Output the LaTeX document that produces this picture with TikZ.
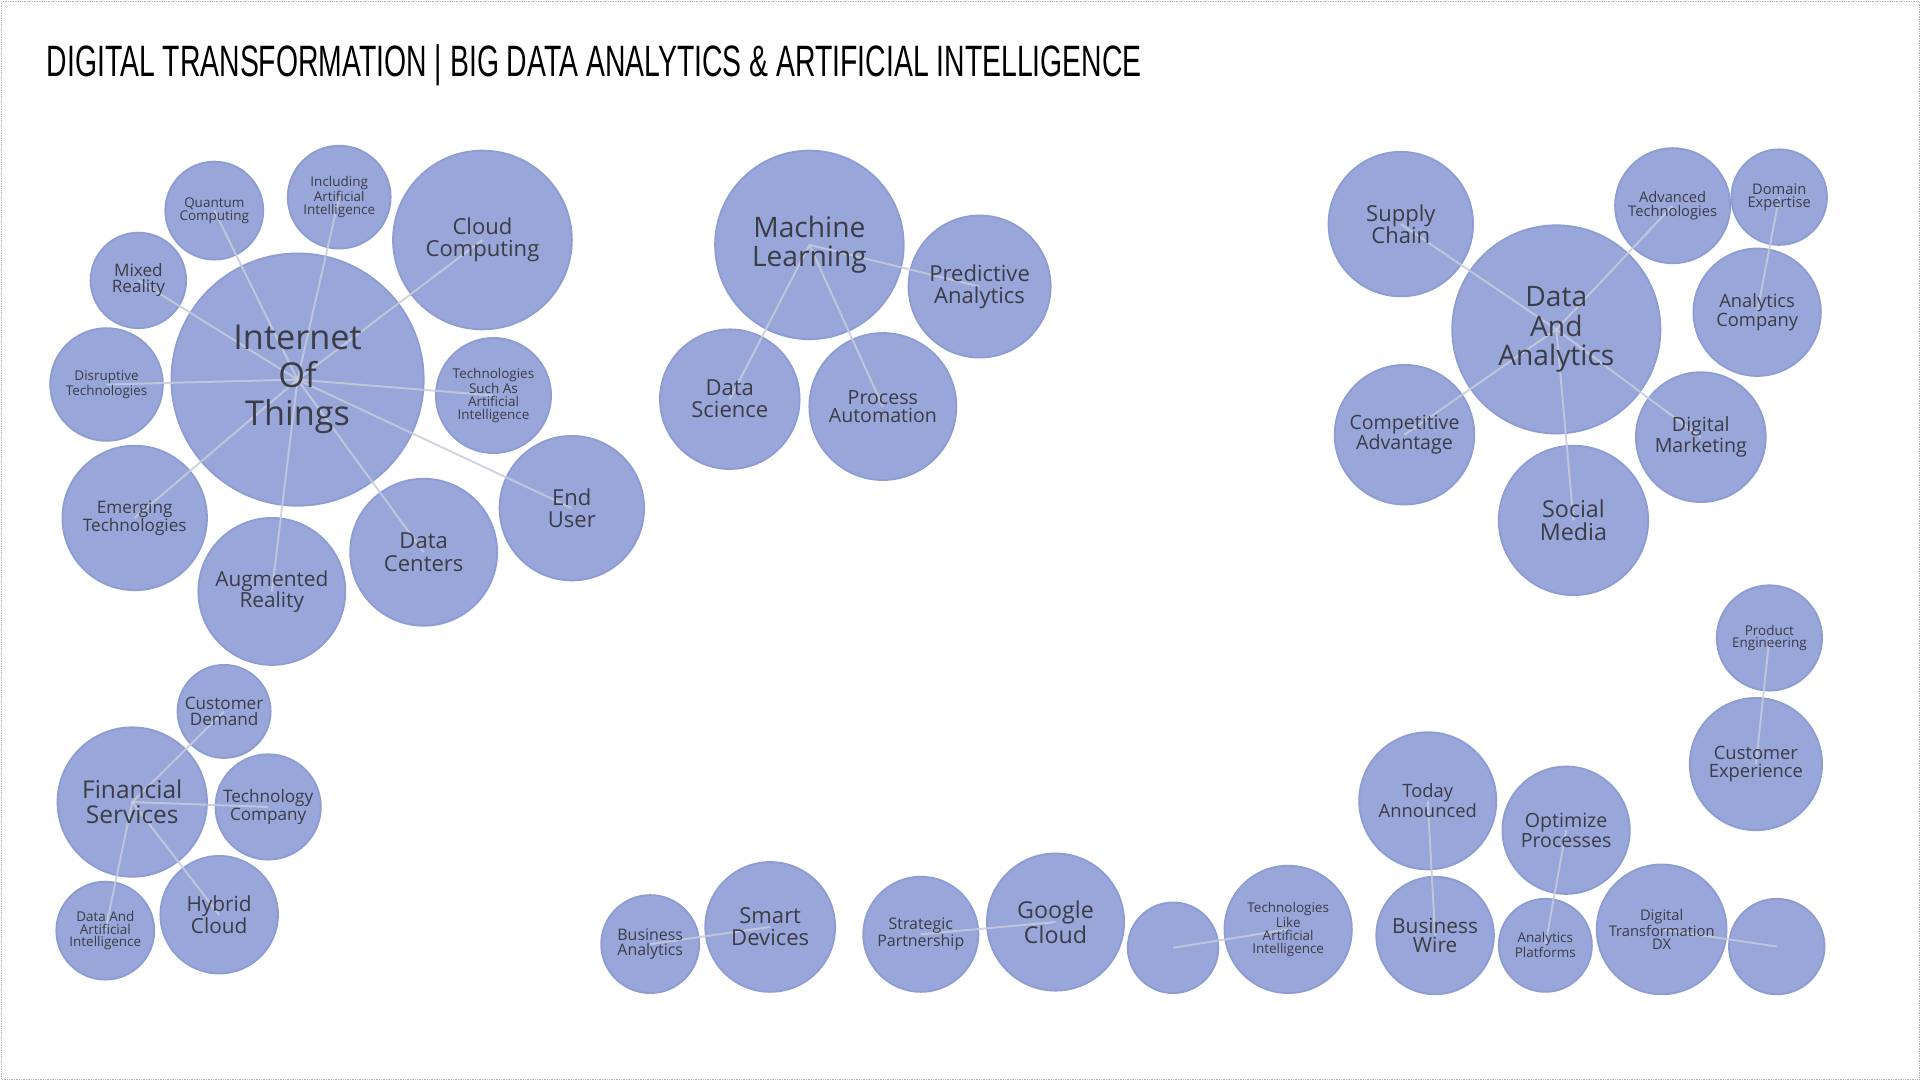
\documentclass[tikz,border=0pt]{standalone}
\usepackage{fontspec}
\usepackage{graphicx}
\setmainfont{Open Sans}
\newfontfamily\titlefont{Liberation Sans}
\definecolor{bubfill}{HTML}{98A6D9}
\definecolor{bubedge}{HTML}{8E9CD4}
\definecolor{txt}{HTML}{3C3C46}
\definecolor{lnk}{HTML}{C8CCDA}
\tikzset{
  bub/.style={circle,fill=bubfill,draw=bubedge,line width=1.5pt,inner sep=0pt},
  lab/.style={align=center,text=txt,inner sep=0pt},
  fxl/.style={font=\fontsize{28}{31}\selectfont},
  fl/.style={font=\fontsize{23}{24}\selectfont},
  fm/.style={font=\fontsize{18}{18}\selectfont},
  fs/.style={font=\fontsize{14}{13}\selectfont},
  fxs/.style={font=\fontsize{11}{10.5}\selectfont},
  link/.style={draw=lnk,line width=1.6pt,opacity=0.85}
}
\begin{document}
\begin{tikzpicture}[x=1pt,y=-1pt]
\useasboundingbox (0,0) rectangle (1568,882);
\draw[gray!60,densely dotted] (1,1) rectangle (1567,881);
\node[anchor=south west,inner sep=0pt] (title) at (38,70) {\resizebox{894pt}{26pt}{\titlefont DIGITAL TRANSFORMATION | BIG DATA ANALYTICS \& ARTIFICIAL INTELLIGENCE}};
% circles
\foreach \n/\x/\y/\r in {
 iot/243/310/103, qc/175/172/40, iai/277/161/42, cc/394/196/73, mr/113/229/39,
 dt/87/314/46, tsa/403/323/47, eu/467/415/59, et/110/423/59, ar/222/483/60, dc/346/451/60,
 ml/661/200/77, pa/800/234/58, ds/596/326/57, pra/721/332/60,
 da/1271/269/85, sc/1144/183/59, adv/1366/168/47, de/1453/161/39, ac/1435/255/52,
 ca/1147/355/57, dm/1389/357/53, sm/1285/425/61,
 pe/1445/521/43, cx/1434/624/54,
 fs/108/655/61, cd/183/581/38, tc/219/659/43, dai/86/760/40, hc/179/747/48,
 ba/531/771/40, sd/629/757/53, sp/752/763/47, gc/862/753/56, bl1/958/774/37, tla/1052/759/52,
 ta/1166/654/56, bw/1172/764/48, op/1279/678/52, ap/1262/772/38, dx/1357/759/53, bl2/1451/773/39}
 {\node[bub,minimum size=2*\r] (\n) at (\x,\y) {};}
% links
\foreach \a/\b in {iot/qc,iot/iai,iot/cc,iot/mr,iot/dt,iot/tsa,iot/eu,iot/et,iot/ar,iot/dc,
 ml/pa,ml/ds,ml/pra, da/sc,da/adv,da/ca,da/dm,da/sm, de/ac, pe/cx,
 fs/cd,fs/tc,fs/dai,fs/hc, ba/sd, sp/gc, bl1/tla, ta/bw, op/ap, dx/bl2}
 {\draw[link] (\a.center) -- (\b.center);}
% labels
\node[lab,fxl] (iott) at (iot) {Internet\\Of\\Things};
\node[lab,fxs] (qct) at (qc) {Quantum\\Computing};
\node[lab,fxs] (iait) at (iai) {Including\\Artificial\\Intelligence};
\node[lab,fm] (cct) at (cc) {Cloud\\Computing};
\node[lab,fs] (mrt) at (mr) {Mixed\\Reality};
\node[lab,fxs] (dtt) at (dt) {Disruptive\\Technologies};
\node[lab,fxs] (tsat) at (tsa) {Technologies\\Such As\\Artificial\\Intelligence};
\node[lab,fm] (eut) at (eu) {End\\User};
\node[lab,fs] (ett) at (et) {Emerging\\Technologies};
\node[lab,fm,font=\fontsize{17}{17}\selectfont] (art) at (ar) {Augmented\\Reality};
\node[lab,fm] (dct) at (dc) {Data\\Centers};
\node[lab,fl] (mlt) at (ml) {Machine\\Learning};
\node[lab,fm] (pat) at (pa) {Predictive\\Analytics};
\node[lab,fm] (dst) at (ds) {Data\\Science};
\node[lab,fs,font=\fontsize{16}{15}\selectfont] (prat) at (pra) {Process\\Automation};
\node[lab,fl] (dat) at (da) {Data\\And\\Analytics};
\node[lab,fm] (sct) at (sc) {Supply\\Chain};
\node[lab,fxs,font=\fontsize{12}{11}\selectfont] (advt) at (adv) {Advanced\\Technologies};
\node[lab,fxs,font=\fontsize{12}{11}\selectfont] (det) at (de) {Domain\\Expertise};
\node[lab,fs,font=\fontsize{15}{15}\selectfont] (act) at (ac) {Analytics\\Company};
\node[lab,fs,font=\fontsize{16}{15}\selectfont] (cat) at (ca) {Competitive\\Advantage};
\node[lab,fs,font=\fontsize{16}{15}\selectfont] (dmt) at (dm) {Digital\\Marketing};
\node[lab,fm,font=\fontsize{19}{19}\selectfont] (smt) at (sm) {Social\\Media};
\node[lab,fxs] (pet) at (pe) {Product\\Engineering};
\node[lab,fs,font=\fontsize{15}{14}\selectfont] (cxt) at (cx) {Customer\\Experience};
\node[lab,fm,font=\fontsize{20}{20}\selectfont] (fst) at (fs) {Financial\\Services};
\node[lab,fs] (cdt) at (cd) {Customer\\Demand};
\node[lab,fs] (tct) at (tc) {Technology\\Company};
\node[lab,fxs] (dait) at (dai) {Data And\\Artificial\\Intelligence};
\node[lab,fm,font=\fontsize{17}{16}\selectfont] (hct) at (hc) {Hybrid\\Cloud};
\node[lab,fs,font=\fontsize{13}{12}\selectfont] (bat) at (ba) {Business\\Analytics};
\node[lab,fm] (sdt) at (sd) {Smart\\Devices};
\node[lab,fs,font=\fontsize{13}{12}\selectfont] (spt) at (sp) {Strategic\\Partnership};
\node[lab,fm,font=\fontsize{19}{18}\selectfont] (gct) at (gc) {Google\\Cloud};
\node[lab,fxs] (tlat) at (tla) {Technologies\\Like\\Artificial\\Intelligence};
\node[lab,fs,font=\fontsize{15}{14}\selectfont] (tat) at (ta) {Today\\Announced};
\node[lab,fs,font=\fontsize{17}{16}\selectfont] (bwt) at (bw) {Business\\Wire};
\node[lab,fs,font=\fontsize{16}{15}\selectfont] (opt) at (op) {Optimize\\Processes};
\node[lab,fxs] (apt) at (ap) {Analytics\\Platforms};
\node[lab,fxs,font=\fontsize{12}{11}\selectfont] (dxt) at (dx) {Digital\\Transformation\\DX};
\end{tikzpicture}
\end{document}
